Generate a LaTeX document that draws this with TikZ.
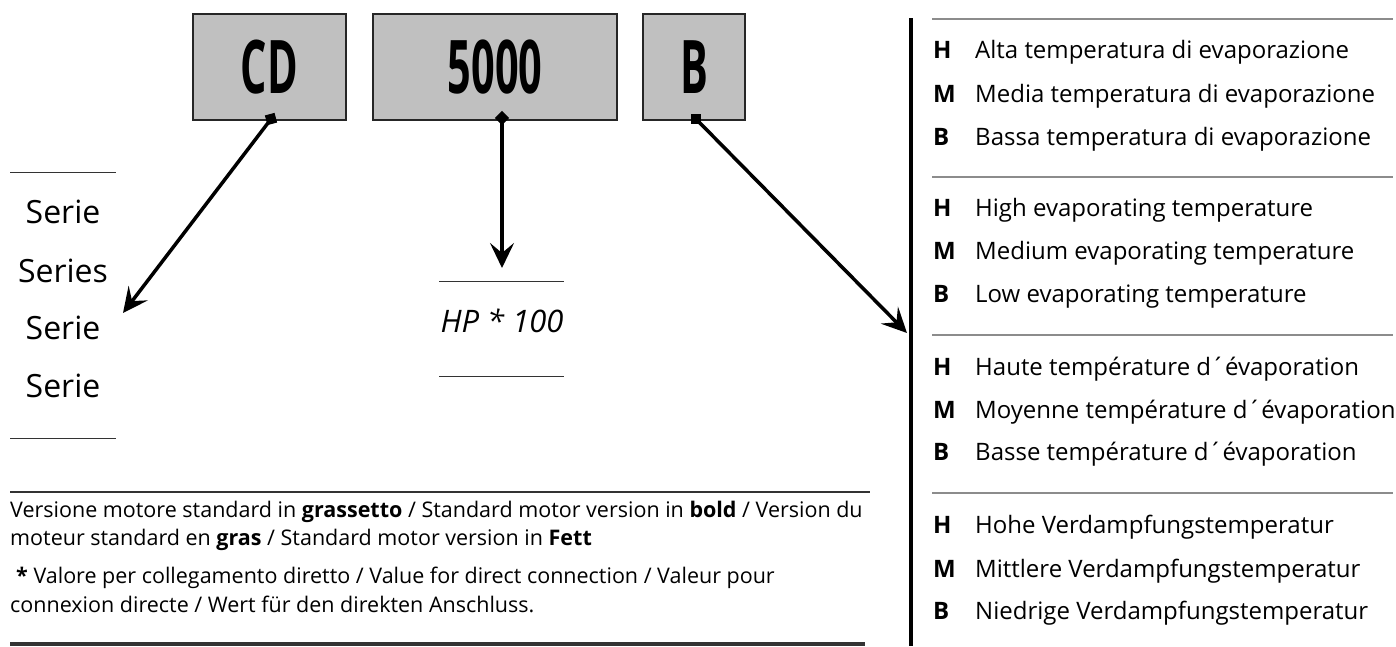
\documentclass[tikz,border=0pt]{standalone}
\usepackage{fontspec}
\setmainfont{Open Sans}
\usetikzlibrary{arrows.meta}
\definecolor{boxgray}{HTML}{C0C0C0}
\definecolor{sepgray}{HTML}{8C8C8C}
\definecolor{rulegray}{HTML}{333333}
\newcommand\boxtxt[1]{\scalebox{0.56}[1]{\fontsize{74}{74}\selectfont\bfseries #1}}
\begin{document}
\begin{tikzpicture}[x=1pt,y=-1pt,
  codebox/.style={draw=black!85, line width=1.5pt, fill=boxgray, inner sep=0pt, minimum height=106pt},
  marker/.style={fill=black, draw=none, minimum size=10pt, inner sep=0pt, rectangle},
  arr/.style={line width=3.5pt, -{Stealth[length=25pt,width=24pt,inset=10pt]}},
  shortrule/.style={draw=rulegray, line width=1pt},
  seprule/.style={draw=sepgray, line width=1.5pt},
  big/.style={inner sep=0pt, anchor=base, font=\fontsize{32}{32}\selectfont},
  legkey/.style={inner sep=0pt, anchor=base west, font=\fontsize{24}{24}\selectfont\bfseries},
  legtxt/.style={inner sep=0pt, anchor=base west, font=\fontsize{24}{24}\selectfont},
  note/.style={inner sep=0pt, anchor=base west, font=\fontsize{21.5}{21.5}\selectfont}
]
\useasboundingbox (0,0) rectangle (1396,646);

% code boxes
\node[codebox, minimum width=153pt] (cd) at (269.5,67) {\boxtxt{CD}};
\node[codebox, minimum width=244pt] (hp) at (495,67) {\boxtxt{5000}};
\node[codebox, minimum width=102pt] (ev) at (694,67) {\boxtxt{B}};

% markers
\node[marker, rotate=15] (mcd) at (271,119) {};
\node[marker, rotate=45] (mhp) at (502,118) {};
\node[marker] (mev) at (696,119) {};

% arrow targets
\coordinate (tcd) at (123,313);
\coordinate (thp) at (502,268);
\coordinate (tev) at (907,333);

\draw[arr] (mcd.center) -- (tcd);
\draw[arr] (mhp.center) -- (thp);
\draw[arr] (mev.center) -- (tev);

% left column
\draw[shortrule] (10,172) -- (116,172);
\node[big] (s1) at (63,223) {Serie};
\node[big] (s2) at (63,282) {Series};
\node[big] (s3) at (63,339) {Serie};
\node[big] (s4) at (63,397) {Serie};
\draw[shortrule] (10,438) -- (116,438);

% HP column
\draw[shortrule] (439,281) -- (564,281);
\node[big, font=\fontsize{31}{31}\selectfont\itshape] (hpt) at (502,332) {HP * 100};
\draw[shortrule] (439,376) -- (564,376);

% vertical rule
\draw[line width=3.3pt] (911,18) -- (911,646);

% right legend
\draw[seprule] (932,19) -- (1393,19);
\node[legkey] at (933,58) {H}; \node[legtxt] at (975,58) {Alta temperatura di evaporazione};
\node[legkey] at (933,102) {M}; \node[legtxt] at (975,102) {Media temperatura di evaporazione};
\node[legkey] at (933,145) {B}; \node[legtxt] at (975,145) {Bassa temperatura di evaporazione};
\draw[seprule] (932,177) -- (1393,177);
\node[legkey] at (933,216) {H}; \node[legtxt] at (975,216) {High evaporating temperature};
\node[legkey] at (933,259) {M}; \node[legtxt] at (975,259) {Medium evaporating temperature};
\node[legkey] at (933,302) {B}; \node[legtxt] at (975,302) {Low evaporating temperature};
\draw[seprule] (932,335) -- (1393,335);
\node[legkey] at (933,375) {H}; \node[legtxt] at (975,375) {Haute température d´évaporation};
\node[legkey] at (933,418) {M}; \node[legtxt] at (975,418) {Moyenne température d´évaporation};
\node[legkey] at (933,460) {B}; \node[legtxt] at (975,460) {Basse température d´évaporation};
\draw[seprule] (932,493) -- (1393,493);
\node[legkey] at (933,533) {H}; \node[legtxt] at (975,533) {Hohe Verdampfungstemperatur};
\node[legkey] at (933,577) {M}; \node[legtxt] at (975,577) {Mittlere Verdampfungstemperatur};
\node[legkey] at (933,619) {B}; \node[legtxt] at (975,619) {Niedrige Verdampfungstemperatur};

% notes
\draw[draw=rulegray, line width=1.6pt] (10,492) -- (870,492);
\node[note] at (10,517) {Versione motore standard in \textbf{grassetto} / Standard motor version in \textbf{bold} / Version du};
\node[note] at (10,545) {moteur standard en \textbf{gras} / Standard motor version in \textbf{Fett}};
\node[note] at (16,583) {\textbf{*} Valore per collegamento diretto / Value for direct connection / Valeur pour};
\node[note] at (10,612) {connexion directe / Wert für den direkten Anschluss.};
\draw[draw=rulegray, line width=4pt] (10,644) -- (865,644);
\end{tikzpicture}
\end{document}
